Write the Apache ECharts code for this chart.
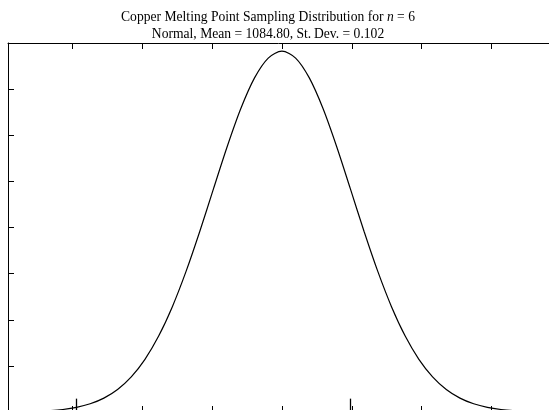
<!DOCTYPE html>
<html>
<head>
<meta charset="utf-8">
<script src="https://cdn.jsdelivr.net/npm/echarts@6/dist/echarts.min.js"></script>
<style>
html,body{margin:0;padding:0;background:#fff;}
#chart{width:549px;height:410px;}
</style>
</head>
<body>
<div id="chart"></div>
<script>
var xValues = [1084.40,1084.42,1084.44,1084.46,1084.48,1084.50,1084.52,1084.54,1084.56,1084.58,
               1084.60,1084.62,1084.64,1084.66,1084.68,1084.70,1084.72,1084.74,1084.76,1084.78,
               1084.80,1084.82,1084.84,1084.86,1084.88,1084.90,1084.92,1084.94,1084.96,1084.98,
               1085.00,1085.02,1085.04,1085.06,1085.08,1085.10,1085.12,1085.14,1085.16,1085.18,1085.20];
var densityValues = [0.0018,0.0038,0.0077,0.0151,0.0285,0.0517,0.0904,0.1518,0.2455,0.3820,
                     0.5721,0.8243,1.1428,1.5249,1.9577,2.4187,2.8757,3.2898,3.6217,3.8367,
                     3.9112,3.8367,3.6217,3.2898,2.8757,2.4187,1.9577,1.5249,1.1428,0.8243,
                     0.5721,0.3820,0.2455,0.1518,0.0904,0.0517,0.0285,0.0151,0.0077,0.0038,0.0018];
// Tick positions (mean ± k·sd) and y ticks
var xTicks = [1084.494,1084.596,1084.698,1084.800,1084.902,1085.004,1085.106];
var yTicks = [0.5,1,1.5,2,2.5,3,3.5,4];
// Marked values on the bottom axis
var markedValues = [1084.50, 1084.90];
// Visible window of the (cropped) plot
var xRange = [1084.40, 1085.190];
var yRange = [0.023, 4];

var curve = xValues.map(function(x,i){return [x, densityValues[i]];});
var MARK_H = 0.123;

var chart = echarts.init(document.getElementById('chart'), null, {renderer:'canvas'});
var lineSt = {color:'#000', width:1};
chart.setOption({
  animation:false,
  backgroundColor:'#fff',
  title:{
    left:263, top:4, textAlign:'center',
    text:'Copper Melting Point Sampling Distribution for {i|n} = 6\nNormal, Mean = 1084.80, St.\u2009Dev. = 0.102',
    textStyle:{fontFamily:'Liberation Serif', fontSize:13.6, fontWeight:'normal', color:'#000', lineHeight:17,
      rich:{i:{fontFamily:'Liberation Serif', fontStyle:'italic', fontSize:13.6, color:'#000', lineHeight:17}}}
  },
  grid:{left:8, top:43, right:0, bottom:0, containLabel:false},
  xAxis:[
    {type:'value', position:'bottom', min:xRange[0], max:xRange[1],
     axisLine:{show:false},
     axisTick:{show:true, inside:true, length:4, lineStyle:lineSt, customValues:xTicks},
     axisLabel:{show:false, customValues:xTicks}, splitLine:{show:false}},
    {type:'value', position:'top', min:xRange[0], max:xRange[1],
     axisLine:{show:true, lineStyle:lineSt},
     axisTick:{show:true, inside:true, length:6, lineStyle:lineSt, customValues:xTicks},
     axisLabel:{show:false, customValues:xTicks}, splitLine:{show:false}}
  ],
  yAxis:[
    {type:'value', position:'left', min:yRange[0], max:yRange[1],
     axisLine:{show:true, lineStyle:lineSt},
     axisTick:{show:true, inside:true, length:6, lineStyle:lineSt, customValues:yTicks},
     axisLabel:{show:false, customValues:yTicks}, splitLine:{show:false}}
  ],
  series:[{
    type:'line', data:curve, showSymbol:false, smooth:0.3,
    lineStyle:{color:'#000', width:1.2},
    markLine:{
      silent:true, symbol:['none','none'], label:{show:false},
      lineStyle:{color:'#000', width:1.3, type:'solid'},
      data: markedValues.map(function(v){return [{coord:[v,yRange[0]]},{coord:[v,yRange[0]+MARK_H]}];})
    }
  }]
});
</script>
</body>
</html>
